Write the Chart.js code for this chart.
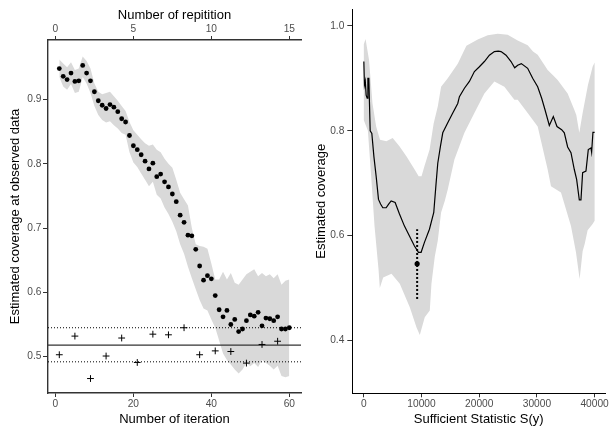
<!DOCTYPE html>
<html>
<head>
<meta charset="utf-8">
<script src="https://cdn.jsdelivr.net/npm/chart.js@4.4.1/dist/chart.umd.min.js"></script>
<style>
  html, body { margin: 0; padding: 0; background: #fff; }
  #leftBox { position: absolute; left: 0; top: 0; width: 306px; height: 427px; }
  #rightBox { position: absolute; left: 306px; top: 0; width: 307px; height: 427px; }
</style>
</head>
<body>
<div id="leftBox"><canvas id="leftChart" width="306" height="427"></canvas></div>
<div id="rightBox"><canvas id="rightChart" width="307" height="427"></canvas></div>
<script>
// Left panel: estimated coverage at the observed data, per iteration
const iterations = [1, 2, 3, 4, 5, 6, 7, 8, 9, 10, 11, 12, 13, 14, 15, 16, 17, 18, 19, 20,
    21, 22, 23, 24, 25, 26, 27, 28, 29, 30, 31, 32, 33, 34, 35, 36, 37, 38, 39, 40,
    41, 42, 43, 44, 45, 46, 47, 48, 49, 50, 51, 52, 53, 54, 55, 56, 57, 58, 59, 60];
const coverage = [0.948, 0.936, 0.931, 0.941, 0.928, 0.929, 0.953, 0.941, 0.929, 0.912,
    0.898, 0.891, 0.886, 0.892, 0.888, 0.881, 0.870, 0.865, 0.844, 0.828,
    0.822, 0.814, 0.804, 0.792, 0.801, 0.780, 0.784, 0.772, 0.764, 0.753,
    0.741, 0.720, 0.709, 0.689, 0.688, 0.667, 0.641, 0.619, 0.626, 0.621,
    0.595, 0.573, 0.562, 0.572, 0.550, 0.558, 0.539, 0.543, 0.556, 0.565,
    0.563, 0.569, 0.548, 0.560, 0.559, 0.556, 0.562, 0.543, 0.543, 0.545];
const coverageLower = [0.935, 0.920, 0.915, 0.924, 0.910, 0.912, 0.935, 0.925, 0.910, 0.890,
    0.876, 0.868, 0.864, 0.866, 0.860, 0.855, 0.848, 0.845, 0.818, 0.802,
    0.795, 0.785, 0.775, 0.765, 0.772, 0.752, 0.746, 0.732, 0.722, 0.710,
    0.695, 0.675, 0.660, 0.640, 0.622, 0.605, 0.588, 0.575, 0.572, 0.558,
    0.545, 0.525, 0.505, 0.495, 0.488, 0.480, 0.474, 0.480, 0.490, 0.485,
    0.490, 0.484, 0.495, 0.490, 0.486, 0.480, 0.486, 0.470, 0.468, 0.470];
const coverageUpper = [0.962, 0.956, 0.950, 0.958, 0.946, 0.948, 0.967, 0.960, 0.948, 0.925,
    0.912, 0.908, 0.910, 0.912, 0.905, 0.898, 0.890, 0.882, 0.865, 0.852,
    0.845, 0.838, 0.832, 0.828, 0.830, 0.822, 0.818, 0.808, 0.800, 0.794,
    0.775, 0.755, 0.745, 0.735, 0.700, 0.675, 0.672, 0.671, 0.668, 0.645,
    0.620, 0.620, 0.632, 0.620, 0.630, 0.615, 0.612, 0.620, 0.628, 0.632,
    0.636, 0.625, 0.630, 0.625, 0.628, 0.622, 0.628, 0.612, 0.618, 0.620];

// crosses: coverage of each repetition
const repIterations = [1, 5, 9, 13, 17, 21, 25, 29, 33, 37, 41, 45, 49, 53, 57];
const repCoverage = [0.503, 0.532, 0.466, 0.501, 0.529, 0.491, 0.535, 0.534, 0.545, 0.503,
    0.509, 0.508, 0.490, 0.519, 0.524];

const targetCoverage = 0.518;
const targetBand = [0.492, 0.545];

const iterTicks = [0, 20, 40, 60];
const repTicks = [0, 5, 10, 15];
const leftYTicks = [0.5, 0.6, 0.7, 0.8, 0.9];

// Right panel: estimated coverage against the sufficient statistic
const statLine = [0, 100, 250, 400, 577, 700, 866, 1100, 1385, 1750,
    2136, 2540, 2900, 3290, 3868, 4300, 4734, 5426, 6176, 7042,
    7908, 8774, 9466, 9928, 10505, 11371, 12121, 12525, 12814, 13276,
    13680, 14545, 15411, 16277, 16566, 17432, 18297, 19163, 20029, 20895,
    21761, 22626, 23290, 23781, 24647, 25513, 26147, 26667, 27300, 28398,
    29264, 30130, 30823, 31400, 32150, 32843, 33478, 34286, 34748, 35325,
    35902, 36479, 36883, 37345, 37634, 37922, 38500, 38903, 39365, 39480,
    39711, 40000];
const covLine = [0.932, 0.887, 0.895, 0.868, 0.862, 0.900, 0.900, 0.800, 0.795, 0.750,
    0.713, 0.669, 0.660, 0.653, 0.653, 0.660, 0.666, 0.663, 0.641, 0.618,
    0.599, 0.580, 0.568, 0.568, 0.587, 0.612, 0.644, 0.700, 0.738, 0.770,
    0.796, 0.815, 0.834, 0.852, 0.865, 0.881, 0.894, 0.913, 0.922, 0.932,
    0.944, 0.951, 0.952, 0.951, 0.944, 0.932, 0.920, 0.925, 0.928, 0.919,
    0.900, 0.884, 0.862, 0.840, 0.810, 0.827, 0.808, 0.802, 0.796, 0.769,
    0.758, 0.726, 0.707, 0.668, 0.668, 0.720, 0.723, 0.764, 0.767, 0.759,
    0.797, 0.797];
const statUpper = [0, 300, 600, 900, 1500, 2136, 2800, 3900, 5000, 6200,
    7400, 8800, 9500, 10000, 10500, 11400, 12100, 12814, 13391, 14545,
    16277, 17778, 19740, 21472, 23204, 24935, 26667, 28398, 29322, 30130,
    31861, 32785, 33593, 35325, 36479, 36825, 37345, 37922, 38845, 39654,
    40000];
const covUpper = [0.965, 0.975, 0.955, 0.935, 0.852, 0.808, 0.783, 0.780, 0.786, 0.770,
    0.751, 0.726, 0.713, 0.713, 0.732, 0.764, 0.814, 0.846, 0.884, 0.900,
    0.928, 0.962, 0.974, 0.982, 0.985, 0.983, 0.972, 0.963, 0.951, 0.945,
    0.916, 0.906, 0.897, 0.871, 0.840, 0.830, 0.796, 0.834, 0.887, 0.922,
    0.930];
const statLower = [0, 350, 700, 1270, 1850, 2540, 2770, 3350, 4790, 6230,
    7965, 9120, 9700, 10560, 11430, 11720, 12300, 12814, 13391, 14026,
    14545, 15700, 17432, 19163, 20895, 22626, 24358, 26090, 26667, 28398,
    30130, 31861, 32438, 34170, 35902, 36767, 37403, 37922, 38300, 38788,
    39654, 40000];
const covLower = [0.820, 0.810, 0.800, 0.713, 0.618, 0.536, 0.500, 0.520, 0.527, 0.508,
    0.463, 0.425, 0.410, 0.444, 0.457, 0.508, 0.560, 0.590, 0.644, 0.666,
    0.688, 0.745, 0.796, 0.834, 0.871, 0.894, 0.884, 0.859, 0.859, 0.834,
    0.808, 0.726, 0.694, 0.682, 0.618, 0.568, 0.517, 0.570, 0.585, 0.610,
    0.622, 0.628];

const observedStat = 9240;
const observedCoverage = 0.546;
const observedInterval = [0.479, 0.612];

const statTicks = [0, 10000, 20000, 30000, 40000];
const rightYTicks = [0.4, 0.6, 0.8, 1.0];

// axis ranges
const leftXMin = -1.9, leftXMax = 63;
const leftYMin = 0.4435, leftYMax = 0.9925;
const rightXMin = -2000, rightXMax = 41800;
const rightYMin = 0.299, rightYMax = 1.032;

const ribbonGrey = '#D9D9D9';
const tickGrey = '#4D4D4D';

Chart.defaults.font.family = "'Liberation Sans', Arial, sans-serif";
Chart.defaults.animation = false;

function toXY(xs, ys) {
    return xs.map((x, i) => ({ x: x, y: ys[i] }));
}

function fixedTicks(values) {
    return scale => { scale.ticks = values.map(v => ({ value: v })); };
}

const tickFont = { size: 10.2 };
const titleFont = { size: 13 };

// ---- left chart ----
new Chart(document.getElementById('leftChart'), {
    type: 'line',
    data: {
        datasets: [
            {
                data: toXY(iterations, coverage),
                showLine: false,
                pointRadius: 2.4,
                pointBackgroundColor: '#000',
                pointBorderWidth: 0
            },
            {
                data: toXY(repIterations, repCoverage),
                showLine: false,
                pointStyle: 'cross',
                pointRadius: 3.4,
                pointBorderColor: '#000',
                pointBorderWidth: 1
            },
            {
                data: toXY([leftXMin, leftXMax], [targetCoverage, targetCoverage]),
                borderColor: '#333',
                borderWidth: 1.4,
                pointRadius: 0
            },
            {
                data: toXY([leftXMin, leftXMax], [targetBand[0], targetBand[0]]),
                borderColor: '#000',
                borderWidth: 1,
                borderDash: [1, 2],
                pointRadius: 0
            },
            {
                data: toXY([leftXMin, leftXMax], [targetBand[1], targetBand[1]]),
                borderColor: '#000',
                borderWidth: 1,
                borderDash: [1, 2],
                pointRadius: 0
            },
            {
                data: toXY(iterations, coverageLower),
                borderColor: 'rgba(0,0,0,0)',
                borderWidth: 0,
                pointRadius: 0,
                fill: false
            },
            {
                data: toXY(iterations, coverageUpper),
                borderColor: 'rgba(0,0,0,0)',
                borderWidth: 0,
                pointRadius: 0,
                backgroundColor: ribbonGrey,
                fill: '-1'
            }
        ]
    },
    options: {
        responsive: false,
        plugins: { legend: { display: false }, tooltip: { enabled: false } },
        layout: { padding: { left: 0, right: 4, top: 0, bottom: 0 } },
        scales: {
            x: {
                type: 'linear',
                position: 'bottom',
                min: leftXMin,
                max: leftXMax,
                afterBuildTicks: fixedTicks(iterTicks),
                afterFit: scale => { scale.height = 34; },
                grid: { drawOnChartArea: false, tickLength: 4, tickColor: '#333' },
                border: { color: '#333', width: 1.4 },
                ticks: { color: tickGrey, font: tickFont, padding: 1, maxRotation: 0, callback: v => String(v) },
                title: { display: true, text: 'Number of iteration', color: '#000', font: titleFont, padding: { top: 0, bottom: 0 } }
            },
            x2: {
                type: 'linear',
                position: 'top',
                min: leftXMin / 4,
                max: leftXMax / 4,
                afterBuildTicks: fixedTicks(repTicks),
                afterFit: scale => { scale.height = 40; },
                grid: { drawOnChartArea: false, tickLength: 4, tickColor: '#333' },
                border: { color: '#333', width: 1.4 },
                ticks: { color: tickGrey, font: tickFont, padding: 1, maxRotation: 0, callback: v => String(v) },
                title: { display: true, text: 'Number of repitition', color: '#000', font: titleFont, padding: { top: 8, bottom: 0 } }
            },
            y: {
                type: 'linear',
                min: leftYMin,
                max: leftYMax,
                afterBuildTicks: fixedTicks(leftYTicks),
                afterFit: scale => { scale.width = 48; },
                grid: { drawOnChartArea: false, tickLength: 5, tickColor: '#333' },
                border: { color: '#333', width: 1.4 },
                ticks: { color: tickGrey, font: tickFont, padding: 1.5, callback: v => v.toFixed(1) },
                title: { display: true, text: 'Estimated coverage at observed data', color: '#000', font: titleFont, padding: { top: 8, bottom: 0 } }
            }
        }
    }
});

// ---- right chart ----
const ribbonShape = toXY(statUpper, covUpper).concat(toXY(statLower, covLower).reverse());

new Chart(document.getElementById('rightChart'), {
    type: 'line',
    data: {
        datasets: [
            {
                data: [{ x: observedStat, y: observedCoverage }],
                showLine: false,
                pointRadius: 2.6,
                pointBackgroundColor: '#000',
                pointBorderWidth: 0
            },
            {
                data: toXY([observedStat, observedStat], observedInterval),
                borderColor: '#000',
                borderWidth: 2,
                borderDash: [2, 2],
                pointRadius: 0
            },
            {
                data: toXY(statLine, covLine),
                borderColor: '#000',
                borderWidth: 1.2,
                pointRadius: 0,
                tension: 0
            },
            {
                data: ribbonShape,
                borderColor: 'rgba(0,0,0,0)',
                borderWidth: 0,
                pointRadius: 0,
                backgroundColor: ribbonGrey,
                fill: 'shape'
            }
        ]
    },
    options: {
        responsive: false,
        plugins: { legend: { display: false }, tooltip: { enabled: false } },
        layout: { padding: { left: 0, right: 8, top: 7, bottom: 0 } },
        scales: {
            x: {
                type: 'linear',
                min: rightXMin,
                max: rightXMax,
                afterBuildTicks: fixedTicks(statTicks),
                afterFit: scale => { scale.height = 33.7; },
                grid: { drawOnChartArea: false, tickLength: 4, tickColor: '#333' },
                border: { color: '#000', width: 1 },
                ticks: { color: tickGrey, font: tickFont, padding: 1, maxRotation: 0, callback: v => String(v) },
                title: { display: true, text: 'Sufficient Statistic S(y)', color: '#000', font: titleFont, padding: { top: 0, bottom: 0 } }
            },
            y: {
                type: 'linear',
                min: rightYMin,
                max: rightYMax,
                afterBuildTicks: fixedTicks(rightYTicks),
                afterFit: scale => { scale.width = 46.3; },
                grid: { drawOnChartArea: false, tickLength: 5, tickColor: '#333' },
                border: { color: '#000', width: 1 },
                ticks: { color: tickGrey, font: tickFont, padding: 3, callback: v => v.toFixed(1) },
                title: { display: true, text: 'Estimated coverage', color: '#000', font: titleFont, padding: { top: 7.5, bottom: 0 } }
            }
        }
    }
});
</script>
</body>
</html>
